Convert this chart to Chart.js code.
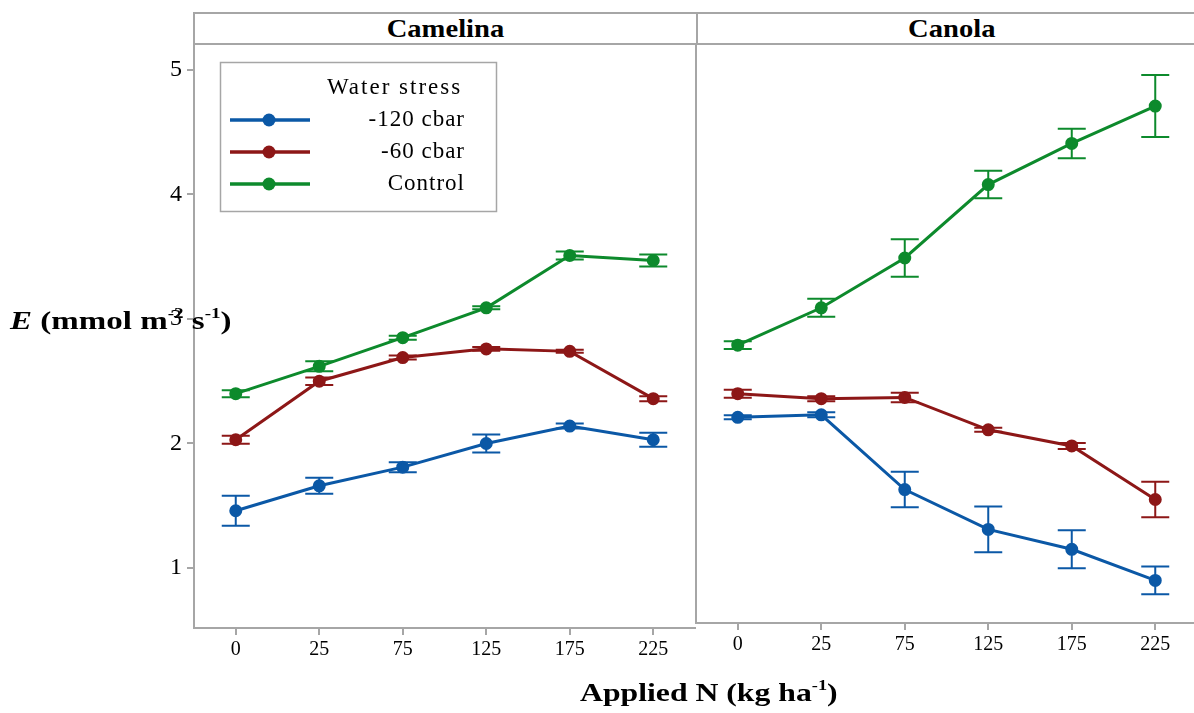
<!DOCTYPE html>
<html>
<head>
<meta charset="utf-8">
<script src="https://cdn.jsdelivr.net/npm/chart.js@4.4.1/dist/chart.umd.min.js"></script>
<style>
  html, body { margin:0; padding:0; background:#fff; }
  body { width:1194px; height:713px; position:relative; overflow:hidden; font-family:"Liberation Serif", "Times New Roman", serif; }
  canvas { position:absolute; }
  #c1 { left:0; top:0; }
  #c2 { left:689px; top:0; }
  .hdr { position:absolute; top:12px; height:33px; box-sizing:border-box; border:2px solid #a6a6a6; background:#fff;
         font-weight:bold; font-size:26px; line-height:30px; text-align:center; color:#000; }
  .hdr span { display:inline-block; transform:scaleX(1.1); }
  #h1 { left:193px; width:505px; }
  #h2 { left:696px; width:510px; border-right:none; }
  .ttl { position:absolute; font-weight:bold; font-size:26px; color:#000; white-space:nowrap; transform-origin:0 50%; }
  #ylab { left:10px; top:306px; transform:scaleX(1.27); }
  #xlab { left:580px; top:678px; transform:scaleX(1.22); }
  sup { font-size:15px; line-height:0; vertical-align:0; position:relative; top:-11px; }
</style>
</head>
<body>
<canvas id="c1" width="700" height="713" style="width:700px;height:713px"></canvas>
<canvas id="c2" width="508" height="713" style="width:508px;height:713px"></canvas>
<div class="hdr" id="h1"><span>Camelina</span></div>
<div class="hdr" id="h2"><span>Canola</span></div>
<div class="ttl" id="ylab"><i>E</i> (mmol m<sup>-2</sup> s<sup>-1</sup>)</div>
<div class="ttl" id="xlab">Applied N (kg ha<sup>-1</sup>)</div>
<script>
// ---- data ----
const nLabels = ['0', '25', '75', '125', '175', '225'];
const yTicks = [1, 2, 3, 4, 5];
const seriesNames = ['-120 cbar', '-60 cbar', 'Control'];
const legendTitle = 'Water stress';
const panelNames = ['Camelina', 'Canola'];

const camelina120 = [1.46, 1.66, 1.81, 2.00, 2.14, 2.03];
const camelina120Err = [0.12, 0.064, 0.04, 0.072, 0.02, 0.056];
const camelina60 = [2.03, 2.50, 2.69, 2.76, 2.74, 2.36];
const camelina60Err = [0.032, 0.03, 0.016, 0.016, 0.012, 0.02];
const camelinaCtrl = [2.40, 2.62, 2.85, 3.09, 3.51, 3.47];
const camelinaCtrlErr = [0.028, 0.04, 0.016, 0.012, 0.032, 0.048];

const canola120 = [2.21, 2.23, 1.63, 1.31, 1.15, 0.90];
const canola120Err = [0.016, 0.02, 0.143, 0.183, 0.153, 0.111];
const canola60 = [2.40, 2.36, 2.37, 2.11, 1.98, 1.55];
const canola60Err = [0.032, 0.02, 0.038, 0.016, 0.024, 0.143];
const canolaCtrl = [2.79, 3.09, 3.49, 4.08, 4.41, 4.71];
const canolaCtrlErr = [0.032, 0.072, 0.15, 0.111, 0.119, 0.249];

const colors = ['#0b58a6', '#8d1717', '#0d8a2c'];
const axisGray = '#a6a6a6';

function makeDatasets(vals, errs) {
  return vals.map((v, k) => ({
    label: seriesNames[k],
    data: v,
    errors: errs[k],
    borderColor: colors[k],
    backgroundColor: colors[k],
    pointBackgroundColor: colors[k],
    pointBorderColor: colors[k],
    borderWidth: 3,
    pointRadius: 5,
    tension: 0
  }));
}

const errorBars = {
  id: 'errorBars',
  afterDatasetsDraw(chart) {
    const ctx = chart.ctx, xs = chart.scales.x, ys = chart.scales.y;
    ctx.save();
    chart.data.datasets.forEach(ds => {
      ctx.strokeStyle = ds.borderColor;
      ctx.lineWidth = 2;
      ds.data.forEach((v, i) => {
        const e = ds.errors[i];
        const x = xs.getPixelForValue(i);
        const yt = ys.getPixelForValue(v + e), yb = ys.getPixelForValue(v - e);
        ctx.beginPath();
        ctx.moveTo(x, yt); ctx.lineTo(x, yb);
        ctx.moveTo(x - 14, yt); ctx.lineTo(x + 14, yt);
        ctx.moveTo(x - 14, yb); ctx.lineTo(x + 14, yb);
        ctx.stroke();
      });
    });
    ctx.restore();
  }
};

const legendBox = {
  id: 'legendBox',
  afterDraw(chart) {
    const ctx = chart.ctx;
    ctx.save();
    ctx.strokeStyle = axisGray; ctx.lineWidth = 1.5;
    ctx.strokeRect(220.5, 62.5, 276, 149);
    ctx.fillStyle = '#000';
    ctx.font = '23px "Liberation Serif"';
    ctx.textBaseline = 'middle';
    ctx.textAlign = 'left';
    ctx.letterSpacing = '2px';
    ctx.fillText(legendTitle, 327, 88);
    ctx.letterSpacing = '1px';
    ctx.textAlign = 'right';
    seriesNames.forEach((n, k) => {
      const y = 120 + k * 32;
      ctx.strokeStyle = colors[k]; ctx.lineWidth = 3.5;
      ctx.beginPath(); ctx.moveTo(230, y); ctx.lineTo(310, y); ctx.stroke();
      ctx.fillStyle = colors[k];
      ctx.beginPath(); ctx.arc(269, y, 6.5, 0, Math.PI * 2); ctx.fill();
      ctx.fillStyle = '#000';
      ctx.fillText(n, 465, y);
    });
    ctx.restore();
  }
};

function baseOptions(yMin, yMax, yWidth, xHeight, showY) {
  return {
    responsive: false,
    animation: false,
    events: [],
    layout: { autoPadding: false, padding: { top: 45, right: showY ? 5 : 0, left: 0, bottom: 0 } },
    plugins: { legend: { display: false }, tooltip: { enabled: false } },
    scales: {
      x: {
        type: 'category',
        offset: true,
        grid: { display: true, drawOnChartArea: false, drawTicks: true, tickLength: 7, color: axisGray, lineWidth: 2 },
        border: { display: true, color: axisGray, width: 2 },
        ticks: { color: '#000', font: { family: '"Liberation Serif"', size: 20 }, padding: 3, maxRotation: 0 },
        afterFit(s) { s.height = xHeight; }
      },
      y: {
        min: yMin, max: yMax,
        grid: { display: true, drawOnChartArea: false, drawTicks: showY, tickLength: 7, color: axisGray, lineWidth: 2 },
        border: { display: true, color: axisGray, width: 2 },
        ticks: { display: showY, color: '#000', font: { family: '"Liberation Serif"', size: 24 }, padding: 5 },
        afterBuildTicks(s) { s.ticks = yTicks.map(v => ({ value: v })); },
        afterFit(s) { s.width = yWidth; }
      }
    }
  };
}

new Chart(document.getElementById('c1'), {
  type: 'line',
  data: { labels: nLabels, datasets: makeDatasets([camelina120, camelina60, camelinaCtrl], [camelina120Err, camelina60Err, camelinaCtrlErr]) },
  options: baseOptions(0.518, 5.2008, 194, 713 - 628, true),
  plugins: [errorBars, legendBox]
});

new Chart(document.getElementById('c2'), {
  type: 'line',
  data: { labels: nLabels, datasets: makeDatasets([canola120, canola60, canolaCtrl], [canola120Err, canola60Err, canolaCtrlErr]) },
  options: baseOptions(0.558, 5.2008, 7, 713 - 623, false),
  plugins: [errorBars]
});
</script>
</body>
</html>
